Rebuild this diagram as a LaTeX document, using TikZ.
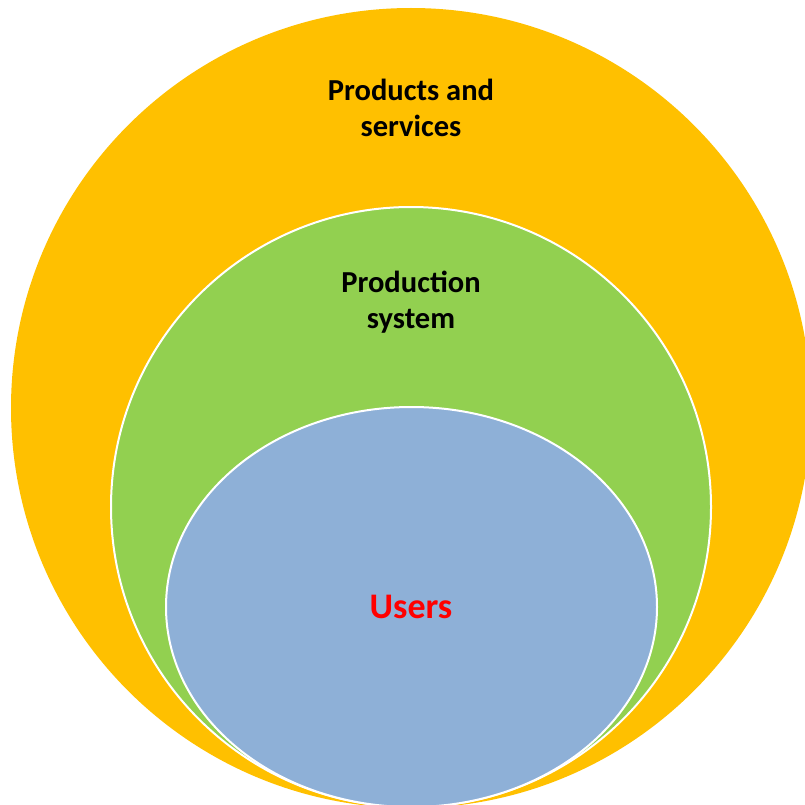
\documentclass[tikz,border=0pt]{standalone}
\usepackage{fontspec}
\setmainfont{Carlito}
\definecolor{outerY}{HTML}{FFC000}
\definecolor{midG}{HTML}{92D050}
\definecolor{innerB}{HTML}{8EB0D7}
\definecolor{userR}{HTML}{FF0000}
\begin{document}
\begin{tikzpicture}[x=1pt,y=1pt,
  ring/.style={draw=white,line width=2pt},
  lbl/.style={font=\fontsize{30.5}{36}\selectfont\bfseries,align=center,inner sep=0pt}]
\useasboundingbox (0,0) rectangle (805,-805);
\begin{scope}
\clip (0,0) rectangle (805,-805);
\fill[outerY] (411,-408) ellipse [x radius=400, y radius=400];
\filldraw[ring,fill=midG] (411,-507) ellipse [x radius=300, y radius=300];
\filldraw[ring,fill=innerB] (411.5,-607) ellipse [x radius=245.5, y radius=200];
\end{scope}
\node[lbl] (ps) at (411,-108) {Products and\\services};
\node[lbl] (prod) at (411,-302) {Production\\system};
\node[lbl,text=userR,font=\fontsize{36}{40}\selectfont\bfseries] (users) at (411,-607) {Users};
\end{tikzpicture}
\end{document}
